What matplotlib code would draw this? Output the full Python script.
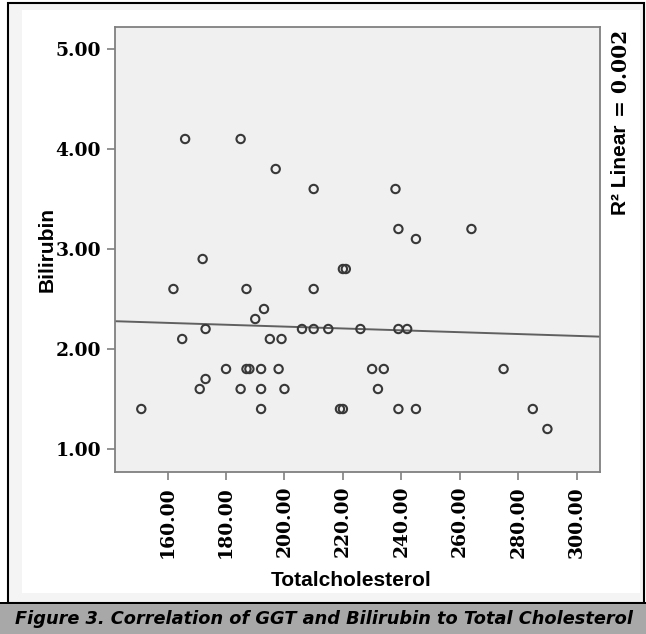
import matplotlib.pyplot as plt
from matplotlib.patches import Rectangle
import numpy as np

# Totalcholesterol / Bilirubin pairs
cholesterol = [151, 162, 165, 166, 171, 172, 173, 173, 180, 185, 185, 187, 187, 188, 190,
               192, 193, 192, 192, 195, 197, 198, 199, 200, 206, 210, 210, 210, 215, 219,
               220, 220, 221, 226, 230, 232, 234, 238, 239, 239, 239, 242, 245, 245, 264,
               275, 285, 290]
bilirubin = [1.4, 2.6, 2.1, 4.1, 1.6, 2.9, 2.2, 1.7, 1.8, 4.1, 1.6, 2.6, 1.8, 1.8, 2.3,
             1.8, 2.4, 1.6, 1.4, 2.1, 3.8, 1.8, 2.1, 1.6, 2.2, 3.6, 2.6, 2.2, 2.2, 1.4,
             1.4, 2.8, 2.8, 2.2, 1.8, 1.6, 1.8, 3.6, 3.2, 2.2, 1.4, 2.2, 3.1, 1.4, 3.2,
             1.8, 1.4, 1.2]
# fit line as drawn in the chart (R2 = 0.002, nearly flat)
fit_intercept = 2.41
fit_slope = -0.00093
x_ticks = [160, 180, 200, 220, 240, 260, 280, 300]
y_ticks = [1, 2, 3, 4, 5]
r2_name = 'R² Linear'
r2_value = '= 0.002'
caption = 'Figure 3. Correlation of GGT and Bilirubin to Total Cholesterol'

W, H = 646, 634
fig = plt.figure(figsize=(W / 100, H / 100), dpi=100)
fig.patch.set_facecolor('white')

def fx(px):
    return px / W

def fy(py):
    return 1 - py / H

# frame, inner panel and caption bar (behind the axes)
fig.add_artist(Rectangle((fx(8), fy(603)), fx(636), 600 / H, transform=fig.transFigure,
                         facecolor='#f4f4f4', edgecolor='black', lw=1.5, zorder=-3))
fig.add_artist(Rectangle((fx(22), fy(593)), fx(618), 583 / H, transform=fig.transFigure,
                         facecolor='white', edgecolor='none', zorder=-2))
fig.add_artist(Rectangle((0, 0), 1, fy(604), transform=fig.transFigure,
                         facecolor='#a8a8a8', edgecolor='none', zorder=-2))
fig.add_artist(Rectangle((0, fy(604)), 1, 2 / H, transform=fig.transFigure,
                         facecolor='black', edgecolor='none', zorder=-1))

ax = fig.add_axes([fx(115), fy(472), fx(485), 445 / H])
ax.set_facecolor('#f0f0f0')
ax.scatter(cholesterol, bilirubin, s=36, facecolors='none', edgecolors='#383838',
           linewidths=1.5, zorder=3)

ax.set_xlim(142, 308)
ax.set_ylim(0.77, 5.22)

xl = np.array(ax.get_xlim())
ax.plot(xl, fit_intercept + fit_slope * xl, color='#606060', lw=1.4, zorder=2)

for s in ax.spines.values():
    s.set_color('#808080')
    s.set_linewidth(1.3)

ax.set_xticks(x_ticks)
ax.set_xticklabels(['%.2f' % v for v in x_ticks], rotation=90)
ax.set_yticks(y_ticks)
ax.set_yticklabels(['%.2f' % v for v in y_ticks])
ax.tick_params(length=6, width=1.2, color='#808080', pad=4)
for lab in ax.get_xticklabels() + ax.get_yticklabels():
    lab.set_fontfamily('DejaVu Serif')
    lab.set_fontweight('bold')
    lab.set_fontsize(13.5)

fig.text(fx(47), fy(250), 'Bilirubin', rotation=90, ha='center', va='center',
         fontsize=15, fontweight='bold', family='Liberation Sans')
fig.text(fx(351), fy(580), 'Totalcholesterol', ha='center', va='center',
         fontsize=15, fontweight='bold', family='Liberation Sans')
fig.text(fx(621), fy(215), r2_name, rotation=90, ha='center', va='bottom',
         fontsize=15, fontweight='bold', family='Liberation Sans')
fig.text(fx(621), fy(30), r2_value, rotation=90, ha='center', va='top',
         fontsize=14.5, fontweight='bold', family='DejaVu Serif')
fig.text(fx(324), fy(619), caption, ha='center', va='center', fontsize=12.8,
         fontweight='bold', style='italic', family='DejaVu Sans')

fig.savefig('out.png', dpi=100)
